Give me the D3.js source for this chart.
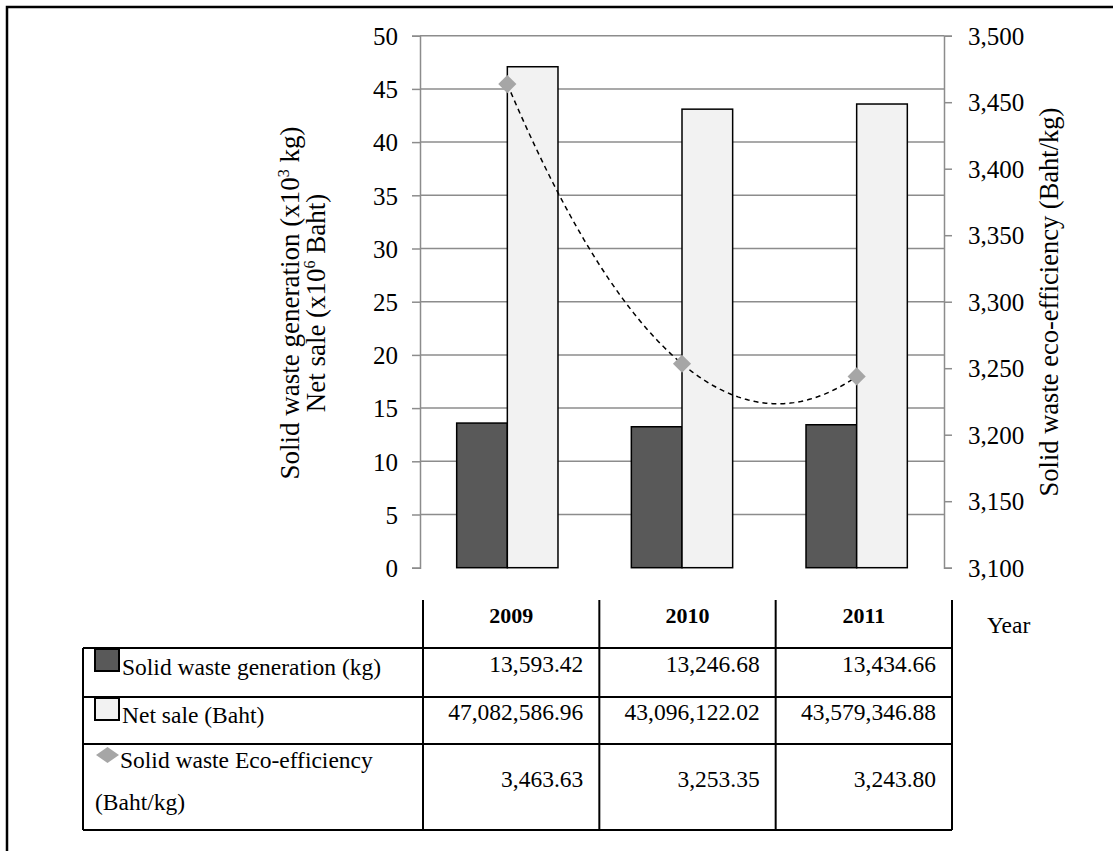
<!DOCTYPE html>
<html>
<head>
<meta charset="utf-8">
<script src="https://cdn.jsdelivr.net/npm/d3@7"></script>
<style>
  html, body { margin: 0; padding: 0; background: #fff; }
  svg text { font-family: "Liberation Serif", "Times New Roman", serif; fill: #000; }
</style>
</head>
<body>
<svg id="chart" width="1113" height="851"></svg>
<script>
// Yearly figures
const years = ["2009", "2010", "2011"];
const wasteKg = [13593.42, 13246.68, 13434.66];
const netSaleBaht = [47082586.96, 43096122.02, 43579346.88];
const ecoEfficiency = [3463.63, 3253.35, 3243.80];

// Axis ticks
const leftTicks = [0, 5, 10, 15, 20, 25, 30, 35, 40, 45, 50];
const rightTicks = [3100, 3150, 3200, 3250, 3300, 3350, 3400, 3450, 3500];

// Table text
const tableValues = [
  ["13,593.42", "13,246.68", "13,434.66"],
  ["47,082,586.96", "43,096,122.02", "43,579,346.88"],
  ["3,463.63", "3,253.35", "3,243.80"]
];

const svg = d3.select("#chart");
const plot = { left: 420, right: 944, top: 35.7, bottom: 567.7 };
const gridColor = "#8c8c8c";

// outer frame
svg.append("path").attr("d", "M7,851 L7,7 L1113,7")
  .attr("fill", "none").attr("stroke", "#000").attr("stroke-width", 2.5);

const x = d3.scaleBand().domain(years).range([plot.left, plot.right]);
const yLeft = d3.scaleLinear().domain([0, 50]).range([plot.bottom, plot.top]);
const yRight = d3.scaleLinear().domain([3100, 3500]).range([plot.bottom, plot.top]);

// gridlines
svg.append("g").selectAll("line").data(leftTicks.filter(d => d > 0)).join("line")
  .attr("x1", plot.left).attr("x2", plot.right)
  .attr("y1", d => yLeft(d)).attr("y2", d => yLeft(d))
  .attr("stroke", gridColor).attr("stroke-width", 1.5);

// left axis
const gL = svg.append("g").attr("transform", `translate(${plot.left},0)`)
  .call(d3.axisLeft(yLeft).tickValues(leftTicks).tickSize(8).tickPadding(14).tickFormat(d3.format("d")));
gL.select(".domain").attr("stroke", gridColor).attr("stroke-width", 1.5);
gL.selectAll(".tick line").attr("stroke", gridColor).attr("stroke-width", 1.5);
gL.selectAll(".tick text").attr("font-size", 25).attr("dy", "0.35em");

// right axis
const gR = svg.append("g").attr("transform", `translate(${plot.right},0)`)
  .call(d3.axisRight(yRight).tickValues(rightTicks).tickSize(8).tickPadding(16).tickFormat(d3.format(",")));
gR.select(".domain").attr("stroke", gridColor).attr("stroke-width", 1.5);
gR.selectAll(".tick line").attr("stroke", gridColor).attr("stroke-width", 1.5);
gR.selectAll(".tick text").attr("font-size", 25).attr("dy", "0.35em");

// bars
const barW = x.bandwidth() * 0.29;
const bars = svg.append("g");
bars.selectAll("rect.waste").data(years).join("rect").attr("class", "waste")
  .attr("x", d => x(d) + x.bandwidth() / 2 - barW)
  .attr("y", (d, i) => yLeft(wasteKg[i] / 1e3))
  .attr("width", barW)
  .attr("height", (d, i) => plot.bottom - yLeft(wasteKg[i] / 1e3))
  .attr("fill", "#595959").attr("stroke", "#000").attr("stroke-width", 1.5);
bars.selectAll("rect.sale").data(years).join("rect").attr("class", "sale")
  .attr("x", d => x(d) + x.bandwidth() / 2)
  .attr("y", (d, i) => yLeft(netSaleBaht[i] / 1e6))
  .attr("width", barW)
  .attr("height", (d, i) => plot.bottom - yLeft(netSaleBaht[i] / 1e6))
  .attr("fill", "#f2f2f2").attr("stroke", "#000").attr("stroke-width", 1.5);

// second-order polynomial trendline of the eco-efficiency series (x = 1..n)
function polyFit2(ys) {
  let s0 = 0, s1 = 0, s2 = 0, s3 = 0, s4 = 0, t0 = 0, t1 = 0, t2 = 0;
  ys.forEach((yv, i) => {
    const xv = i + 1;
    s0 += 1; s1 += xv; s2 += xv * xv; s3 += xv ** 3; s4 += xv ** 4;
    t0 += yv; t1 += xv * yv; t2 += xv * xv * yv;
  });
  // solve the normal equations by Cramer's rule
  const M = [[s4, s3, s2], [s3, s2, s1], [s2, s1, s0]];
  const T = [t2, t1, t0];
  const det = m => m[0][0] * (m[1][1] * m[2][2] - m[1][2] * m[2][1])
    - m[0][1] * (m[1][0] * m[2][2] - m[1][2] * m[2][0])
    + m[0][2] * (m[1][0] * m[2][1] - m[1][1] * m[2][0]);
  const D = det(M);
  const coef = [0, 1, 2].map(k => det(M.map((row, r) => row.map((v, c) => c === k ? T[r] : v))) / D);
  return xv => coef[0] * xv * xv + coef[1] * xv + coef[2];
}
const trend = polyFit2(ecoEfficiency);
const xPos = d3.scaleLinear().domain([1, years.length])
  .range([x(years[0]) + x.bandwidth() / 2, x(years[years.length - 1]) + x.bandwidth() / 2]);
const trendPts = d3.range(1, years.length + 0.001, 0.02).map(t => [xPos(t), yRight(trend(t))]);
svg.append("path").attr("d", d3.line()(trendPts))
  .attr("fill", "none").attr("stroke", "#000").attr("stroke-width", 1.5)
  .attr("stroke-dasharray", "5,4");

// eco-efficiency markers
const diamond = d3.symbol().type(d3.symbolDiamond2).size(210);
svg.append("g").selectAll("path").data(years).join("path")
  .attr("transform", (d, i) => `translate(${x(d) + x.bandwidth() / 2},${yRight(ecoEfficiency[i])})`)
  .attr("d", diamond).attr("fill", "#a6a6a6");

// axis titles
const lt = svg.append("text").attr("transform", "translate(299,303) rotate(-90)")
  .attr("text-anchor", "middle").attr("font-size", 27);
lt.append("tspan").text("Solid waste generation (x10");
lt.append("tspan").attr("font-size", 16).attr("dy", -10).text("3");
lt.append("tspan").attr("dy", 10).text(" kg)");
const lt2 = svg.append("text").attr("transform", "translate(325,303) rotate(-90)")
  .attr("text-anchor", "middle").attr("font-size", 27);
lt2.append("tspan").text("Net sale (x10");
lt2.append("tspan").attr("font-size", 16).attr("dy", -10).text("6");
lt2.append("tspan").attr("dy", 10).text(" Baht)");

svg.append("text").attr("transform", "translate(1058,302) rotate(-90)")
  .attr("text-anchor", "middle").attr("font-size", 26.5)
  .text("Solid waste eco-efficiency (Baht/kg)");

// data table
const tbl = { left: 83, colLeft: 423, right: 952, headTop: 600, rows: [648, 697, 744, 830] };
const tx = d3.scaleBand().domain(years).range([tbl.colLeft, tbl.right]);
const tg = svg.append("g").attr("stroke", "#000").attr("stroke-width", 2);
[tbl.colLeft, ...years.map(d => tx(d) + tx.bandwidth())].forEach(cx => {
  tg.append("line").attr("x1", cx).attr("x2", cx).attr("y1", tbl.headTop).attr("y2", tbl.rows[3]);
});
tg.append("line").attr("x1", tbl.left).attr("x2", tbl.left).attr("y1", tbl.rows[0]).attr("y2", tbl.rows[3]);
tbl.rows.forEach(ry => {
  tg.append("line").attr("x1", tbl.left).attr("x2", tbl.right).attr("y1", ry).attr("y2", ry);
});

const fs = 23.5;
// header
svg.append("g").selectAll("text").data(years).join("text")
  .attr("x", d => tx(d) + tx.bandwidth() / 2).attr("y", 623)
  .attr("text-anchor", "middle").attr("font-size", 22).attr("font-weight", "bold").text(d => d);
svg.append("text").attr("x", 987).attr("y", 633).attr("font-size", fs).text("Year");

// values
const rowBase = [672, 720, 787];
tableValues.forEach((row, r) => {
  svg.append("g").selectAll("text").data(row).join("text")
    .attr("x", (d, i) => tx(years[i]) + tx.bandwidth() - 16).attr("y", rowBase[r])
    .attr("text-anchor", "end").attr("font-size", fs).text(d => d);
});

// legend keys and row labels
svg.append("rect").attr("x", 95).attr("y", 649).attr("width", 24).attr("height", 22)
  .attr("fill", "#595959").attr("stroke", "#000").attr("stroke-width", 2);
svg.append("text").attr("x", 122).attr("y", 675).attr("font-size", fs).text("Solid waste generation (kg)");
svg.append("rect").attr("x", 95).attr("y", 698).attr("width", 24).attr("height", 22)
  .attr("fill", "#f2f2f2").attr("stroke", "#000").attr("stroke-width", 2);
svg.append("text").attr("x", 122).attr("y", 723).attr("font-size", fs).text("Net sale (Baht)");
svg.append("path").attr("d", "M96,755 L107.5,747 L119,755 L107.5,763 Z").attr("fill", "#a6a6a6");
svg.append("text").attr("x", 120).attr("y", 768).attr("font-size", fs).text("Solid waste Eco-efficiency");
svg.append("text").attr("x", 95).attr("y", 810).attr("font-size", fs).text("(Baht/kg)");
</script>
</body>
</html>
